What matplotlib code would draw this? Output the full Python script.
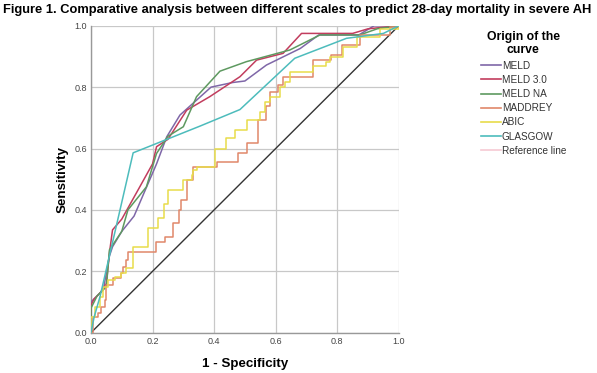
import numpy as np
import matplotlib
matplotlib.use("Agg")
import matplotlib.pyplot as plt
from matplotlib.lines import Line2D

plt.rcParams['font.family'] = ['Liberation Sans', 'DejaVu Sans']

# ROC curves (1 - specificity, sensitivity)
meld_x = [0, 0, 0.04, 0.06, 0.07, 0.10, 0.14, 0.17, 0.213, 0.246, 0.289, 0.39, 0.46, 0.50, 0.57, 0.68, 0.74, 0.87, 0.92, 1.0]
meld_y = [0, 0.10, 0.14, 0.25, 0.28, 0.33, 0.38, 0.45, 0.55, 0.638, 0.709, 0.80, 0.815, 0.82, 0.872, 0.926, 0.97, 0.97, 1.0, 1.0]

meld3_x = [0, 0, 0.01, 0.03, 0.05, 0.06, 0.07, 0.10, 0.159, 0.20, 0.213, 0.25, 0.311, 0.386, 0.484, 0.538, 0.624, 0.684, 0.85, 0.90, 1.0]
meld3_y = [0, 0.09, 0.11, 0.13, 0.16, 0.26, 0.335, 0.37, 0.476, 0.55, 0.606, 0.63, 0.725, 0.769, 0.834, 0.888, 0.91, 0.975, 0.975, 0.99, 1.0]

meldna_x = [0, 0, 0.02, 0.05, 0.06, 0.10, 0.12, 0.18, 0.213, 0.25, 0.30, 0.343, 0.419, 0.505, 0.646, 0.744, 0.873, 0.93, 1.0]
meldna_y = [0, 0.08, 0.12, 0.15, 0.27, 0.33, 0.40, 0.475, 0.584, 0.64, 0.671, 0.769, 0.852, 0.883, 0.921, 0.97, 0.97, 0.99, 1.0]

# step curves: x where the jump happens, y after the jump
maddrey_x = [0, 0.006, 0.023, 0.034, 0.044, 0.05, 0.071, 0.098, 0.104, 0.115, 0.12, 0.212, 0.239, 0.266, 0.286, 0.294,
             0.311, 0.332, 0.408, 0.478, 0.506, 0.543, 0.57, 0.58, 0.608, 0.624, 0.72, 0.78, 0.814, 0.873, 0.97, 1.0]
maddrey_y = [0, 0.052, 0.063, 0.085, 0.106, 0.155, 0.177, 0.193, 0.215, 0.237, 0.264, 0.296, 0.313, 0.356, 0.40, 0.432,
             0.497, 0.541, 0.557, 0.584, 0.617, 0.693, 0.74, 0.784, 0.806, 0.833, 0.887, 0.904, 0.936, 0.969, 0.996, 1.0]

abic_x = [0, 0, 0.012, 0.028, 0.039, 0.055, 0.077, 0.098, 0.115, 0.136, 0.185, 0.218, 0.236, 0.25, 0.30, 0.327, 0.332,
          0.343, 0.403, 0.44, 0.468, 0.506, 0.549, 0.565, 0.58, 0.614, 0.63, 0.646, 0.722, 0.765, 0.776, 0.819, 0.863, 0.938, 1.0]
abic_y = [0, 0.052, 0.085, 0.117, 0.15, 0.172, 0.182, 0.193, 0.21, 0.278, 0.34, 0.373, 0.42, 0.465, 0.497, 0.514, 0.53,
          0.541, 0.60, 0.633, 0.66, 0.693, 0.719, 0.752, 0.768, 0.80, 0.817, 0.849, 0.87, 0.882, 0.898, 0.93, 0.963, 0.99, 1.0]

glasgow_x = [0, 0.01, 0.03, 0.137, 0.354, 0.484, 0.662, 0.83, 0.95, 1.0]
glasgow_y = [0, 0.05, 0.12, 0.586, 0.673, 0.727, 0.894, 0.959, 0.975, 1.0]

ref_x = [0, 1]
ref_y = [0, 1]

labels = ['MELD', 'MELD 3.0', 'MELD NA', 'MADDREY', 'ABIC', 'GLASGOW', 'Reference line']
colors = ['#7f67a8', '#c23d5e', '#5e9960', '#e0876a', '#e8dc4a', '#4dbcbc', '#f6c9d3']

fig = plt.figure(figsize=(5.97, 3.73), dpi=100)
ax = fig.add_axes([0.1524, 0.108, 0.5156, 0.823])

ax.plot(ref_x, ref_y, color='#333333', lw=1.0, zorder=2)
ax.plot(meld_x, meld_y, color=colors[0], lw=1.1, zorder=3)
ax.plot(meld3_x, meld3_y, color=colors[1], lw=1.1, zorder=3)
ax.plot(meldna_x, meldna_y, color=colors[2], lw=1.1, zorder=3)
ax.step(maddrey_x, maddrey_y, where='post', color=colors[3], lw=1.1, zorder=3)
ax.step(abic_x, abic_y, where='post', color=colors[4], lw=1.1, zorder=3)
ax.plot(glasgow_x, glasgow_y, color=colors[5], lw=1.1, zorder=3)

ax.set_xlim(0, 1)
ax.set_ylim(0, 1)
ticks = [0.0, 0.2, 0.4, 0.6, 0.8, 1.0]
ax.set_xticks(ticks)
ax.set_yticks(ticks)
ax.set_xticklabels(['%.1f' % t for t in ticks])
ax.set_yticklabels(['%.1f' % t for t in ticks])
ax.tick_params(labelsize=6.5, colors='#444444', length=0, pad=3)
ax.grid(color='#c8c8c8', lw=0.9)
ax.set_axisbelow(True)
for s in ['top', 'right']:
    ax.spines[s].set_visible(False)
for s in ['left', 'bottom']:
    ax.spines[s].set_color('#999999')
    ax.spines[s].set_linewidth(1.0)

ax.set_xlabel('1 - Specificity', fontsize=9.6, fontweight='bold', labelpad=9)
ax.set_ylabel('Sensitivity', fontsize=9.6, fontweight='bold', labelpad=4)

fig.text(0.005, 0.972, 'Figure 1. Comparative analysis between different scales to predict 28-day mortality in severe AH',
         fontsize=9.3, fontweight='bold', va='center', ha='left')

handles = [Line2D([0], [0], color=c, lw=1.2) for c in colors]
leg = fig.legend(handles, labels, loc='upper left', bbox_to_anchor=(0.79, 0.942),
                 frameon=False, fontsize=7.2, title='Origin of the\ncurve',
                 handlelength=2.0, handletextpad=0.1, labelspacing=0.42)
leg.get_title().set_fontweight('bold')
leg.get_title().set_fontsize(8.8)
leg.get_title().set_multialignment('center')
for t in leg.get_texts():
    t.set_color('#333333')

fig.savefig('out.png', dpi=100)
